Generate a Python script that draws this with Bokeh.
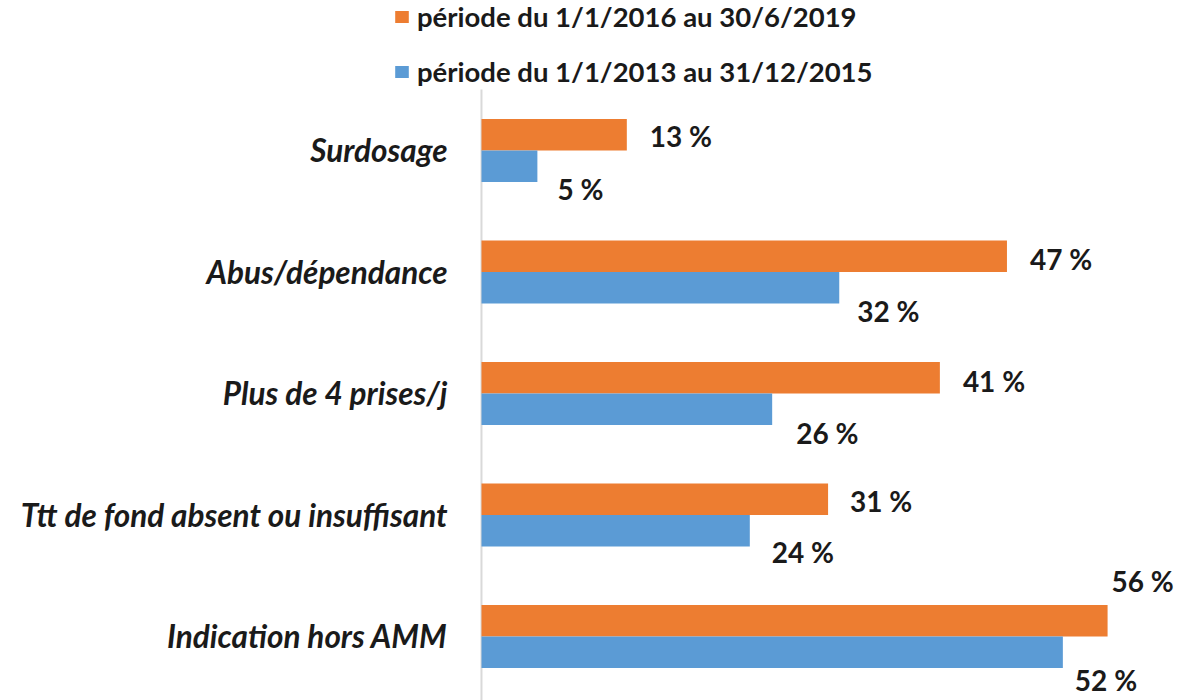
from bokeh.plotting import figure
from bokeh.models import ColumnDataSource, Range1d, Legend, LegendItem
from bokeh.embed import file_html
from bokeh.resources import INLINE
from bokeh.core.properties import value

categories = ["Surdosage", "Abus/dépendance", "Plus de 4 prises/j",
              "Ttt de fond absent ou insuffisant", "Indication hors AMM"]
series_names = ["période du 1/1/2016 au 30/6/2019", "période du 1/1/2013 au 31/12/2015"]
values_2016_2019 = [13, 47, 41, 31, 56]
values_2013_2015 = [5, 32, 26, 24, 52]

# label placement offsets (pixels) – style only
orange_dx = [23, 23, 23, 22, 4]
orange_dy = [1, 3, 3, 2, -40]
blue_dx = [20, 18, 24, 22, 12]
blue_dy = [23, 23, 24, 21, 28]

ORANGE = "#ED7D31"
BLUE = "#5B9BD5"
TEXT = "#1a1a1a"
FONT = "Lato"
bar_h = 0.259

pos = list(range(len(categories)))
src_o = ColumnDataSource(dict(y=[p - bar_h / 2 for p in pos], v=values_2016_2019,
                              lab=[f"{v} %" for v in values_2016_2019],
                              dx=orange_dx, dy=orange_dy))
src_b = ColumnDataSource(dict(y=[p + bar_h / 2 for p in pos], v=values_2013_2015,
                              lab=[f"{v} %" for v in values_2013_2015],
                              dx=blue_dx, dy=blue_dy))
src_c = ColumnDataSource(dict(y=pos, x=[0] * len(pos), name=categories))

y_top, y_bottom = -1.2346, 4.527
p = figure(width=1201, height=700, output_backend="svg", toolbar_location=None,
           x_range=Range1d(-43.02, 64.4), y_range=Range1d(y_bottom, y_top),
           min_border=0)
p.outline_line_color = None
p.xgrid.visible = False
p.ygrid.visible = False
p.xaxis.visible = False
p.yaxis.visible = False

# vertical category axis line
p.segment(x0=[0], y0=[-0.502], x1=[0], y1=[y_bottom], line_color="#D9D9D9", line_width=2)

r_o = p.hbar(y="y", right="v", left=0, height=bar_h, source=src_o, color=ORANGE, line_color=None)
r_b = p.hbar(y="y", right="v", left=0, height=bar_h, source=src_b, color=BLUE, line_color=None)

for src in (src_o, src_b):
    p.text(x="v", y="y", text="lab", x_offset="dx", y_offset="dy", source=src,
           text_font=value(FONT), text_font_style="bold", text_font_size="28px",
           text_baseline="middle", text_align="left", text_color=TEXT)

p.text(x="x", y="y", text="name", x_offset=-34, source=src_c,
       text_font=value(FONT), text_font_style="bold italic", text_font_size="31.5px",
       text_baseline="middle", text_align="right", text_color=TEXT)

legend = Legend(items=[LegendItem(label=series_names[0], renderers=[r_o]),
                       LegendItem(label=series_names[1], renderers=[r_b])],
                location=(393, 612), orientation="vertical",
                glyph_width=17, glyph_height=15, label_standoff=7,
                label_height=30, spacing=22, padding=0, margin=0,
                border_line_color=None, background_fill_alpha=0,
                label_text_font=FONT, label_text_font_style="bold",
                label_text_font_size="27.5px", label_text_color=TEXT,
                label_text_baseline="middle")
p.add_layout(legend)

open("out.html", "w").write(file_html(p, INLINE))
